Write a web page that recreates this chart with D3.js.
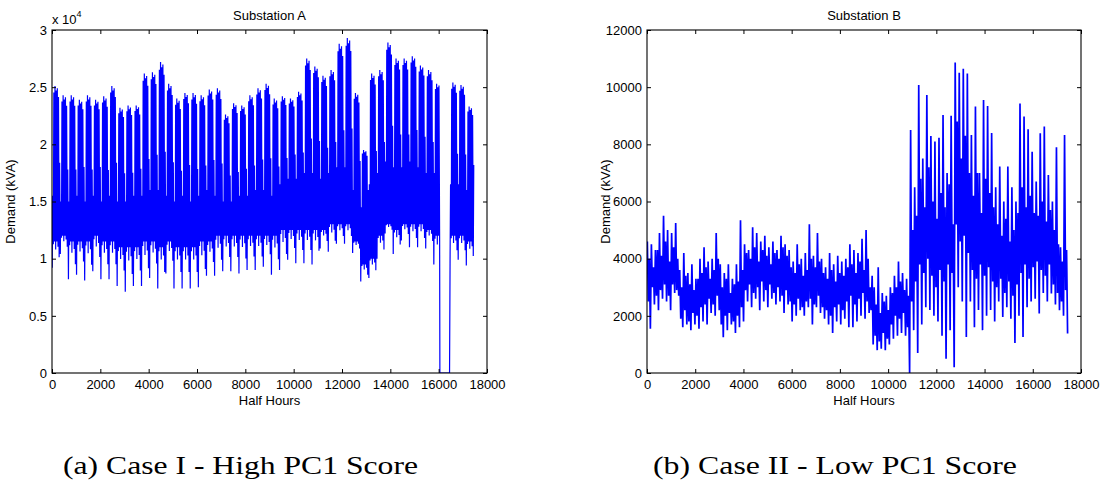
<!DOCTYPE html>
<html>
<head>
	<meta charset="utf-8">
	<style>
		body { margin: 0; background: #fff; }
	</style>
</head>
<body>

	<div id="chart"></div>

	<script src="https://cdnjs.cloudflare.com/ajax/libs/d3/7.8.5/d3.min.js"></script>

	<script>
		const W = 1109;
		const H = 481;
		const WEEK = 336; // half hours per week
		const DAY = 48;
		const HALFWEEK = 168;

		const xTicks = [0, 2000, 4000, 6000, 8000, 10000, 12000, 14000, 16000, 18000];
		const aYTicks = [0, 5000, 10000, 15000, 20000, 25000, 30000];
		const aYLabels = ['0', '0.5', '1', '1.5', '2', '2.5', '3'];
		const bYTicks = [0, 2000, 4000, 6000, 8000, 10000, 12000];

		// Substation A, one value per week (kVA)
		const aPeak = [25100, 24300, 24300, 23900, 24300, 23900, 24200, 25100, 23200, 23400, 23400, 26200, 26300, 27200,
			25300, 24000, 24500, 24500, 24300, 24800, 24900, 22600, 23600, 23400, 24300, 24900, 25300, 24000,
			24200, 24000, 24600, 27500, 26800, 26000, 26500, 28800, 29300, 24500, 19500, 26200, 26500, 28900,
			27500, 27500, 27700, 26900, 26500, 25300, 0, 25400, 25200, 23300];
		const aWkend = [15500, 15000, 15000, 15500, 15000, 15500, 15000, 15500, 15000, 15000, 15500, 15500, 16000, 16000,
			15500, 15000, 15500, 15000, 15500, 16000, 15500, 15000, 15000, 15500, 15500, 16000, 16000, 15500,
			16500, 17000, 17000, 17500, 17500, 17000, 17500, 18000, 18000, 16000, 14500, 16500, 17500, 18500,
			18000, 18000, 18500, 18000, 17500, 17500, 0, 16500, 16500, 16000];
		const aFloor = [11500, 12000, 11500, 11500, 11500, 12000, 11500, 11500, 11000, 11000, 11000, 11500, 11500, 11000,
			11500, 11000, 11000, 11000, 11500, 11500, 12000, 12000, 12000, 12000, 12000, 12000, 12000, 12000,
			12500, 12500, 12500, 12500, 12500, 12500, 13000, 13000, 13000, 11500, 9500, 10000, 12000, 13000,
			12500, 13000, 13000, 13000, 12500, 12000, 0, 12000, 12000, 11500];
		const aMin = [9200, 10400, 8200, 8600, 8100, 8900, 8200, 8200, 7600, 7100, 7600, 7600, 8300, 7400,
			8700, 7400, 7400, 7400, 7500, 8500, 8500, 8900, 8900, 8700, 9000, 9000, 9300, 8600,
			9000, 9900, 9600, 9600, 9500, 10900, 10600, 11300, 11300, 10500, 8000, 8300, 10000, 12200,
			10400, 11600, 11000, 11000, 10900, 9500, 0, 9900, 9900, 9400];
		const aOutage = [16050, 16450];
		// typical day shape inside a week (Sun..Sat): share of the rise above weekend level,
		// and share of the drop from the weekday floor towards the weekly minimum
		const aDayHigh = [0, 0.94, 1.0, 0.96, 0.98, 0.9, 0.3];
		const aDayLow = [1, 0.1, 0, 0.3, 0, 0.2, 0.6];

		// Substation B, per half week: highest and lowest spike (kVA)
		const bHigh = [4600, 4500, 4300, 4900, 5500, 5000, 4900, 5250,
			3600, 4200, 3500, 3800, 3300, 4000, 4400, 3900, 4000, 4900,
			3800, 3500, 3800, 3300, 3800, 5340, 4500, 4300, 5100, 4900, 4600, 4800, 4400, 4600,
			4300, 4800, 4500, 4300, 3900, 4500, 4000, 4200, 5200, 4100, 4900, 4000, 3700, 4200, 3800, 4100, 3900, 4000, 4500, 4300,
			4200, 4700, 5000, 3000, 3000, 3700, 2800, 2700, 3000, 3400, 3900, 3500, 3300,
			8500, 6500, 10080, 7500, 9730, 8290, 8100, 8230, 9030, 7000, 9000, 10860, 10500, 10640, 10480, 8330, 9320, 7000,
			9550, 9340, 8400, 6500, 7220, 6000, 7220, 6500, 6000, 9430, 8970, 8530, 7740, 6700, 8390, 8620, 6930, 6000,
			7900, 4400, 8330];
		const bLow = [1550, 2400, 2200, 2600, 2500, 2200, 2800, 2700,
			1600, 1700, 1500, 1700, 1550, 1800, 1700, 2100, 2000, 2200,
			1250, 1500, 1700, 1400, 1600, 1800, 2500, 2300, 2600, 2200, 2500, 2300, 2600, 2400,
			2500, 2100, 2400, 1800, 2000, 2200, 2000, 2300, 1700, 2300, 2100, 1900, 1700, 1400, 1800, 1700, 1900, 1600, 1600, 1800,
			2000, 1900, 2100, 1000, 800, 850, 800, 1000, 1200, 1300, 1400, 1300, 0,
			1500, 700, 1700, 2300, 2200, 2000, 1800, 1300, 500, 1500, 200, 3000, 2500, 1260, 2500, 1600, 2200, 1500,
			2000, 2200, 1800, 2500, 1960, 2300, 1900, 1050, 2000, 1260, 2300, 2500, 2600, 2080, 2800, 2500, 2780, 2400,
			2200, 2000, 1380];
		// second, smaller swing inside each half week (kVA)
		const bHigh2 = [4000, 3700, 4300, 4100, 4600, 3900, 4400, 4000,
			3000, 3400, 3100, 2900, 3300, 3500, 3700, 3300, 3600, 4000,
			3000, 3300, 2800, 3100, 3200, 3600,
			4200, 4000, 4400, 3900, 4300, 4100, 3800, 4200, 4000, 4400, 4100, 3700,
			3500, 3800, 3400, 3600, 4000, 3700, 3900, 3500, 3300, 3600, 3200, 3500, 3400, 3700, 3800, 3500, 3900, 3600, 4000, 3400,
			2400, 2100, 2500, 2200,
			2800, 3000, 3200, 2900, 2700, 5000,
			5500, 6800, 5800, 7200, 6000, 5400, 6300, 5800, 6600, 5200,
			8800, 7500, 8300, 7000,
			6200, 7000, 5600, 6800, 6300, 5800,
			5200, 4800, 5400, 4600, 5000, 5600,
			6500, 5800, 6200, 5600, 5500, 6000, 5300, 5700,
			5000, 4500, 3900, 4300];
		const bLow2 = [2500, 3000, 2700, 2900, 3100, 2700, 3100, 2900,
			1900, 2200, 1800, 2100, 2000, 2300, 2400, 2600, 2400, 2700,
			1700, 2000, 2100, 1800, 2000, 2300,
			2900, 3100, 2800, 3000, 3200, 2900, 3100, 2800, 3000, 2700, 2900, 2500,
			2400, 2600, 2300, 2500, 2600, 2400, 2700, 2300, 2200, 2000, 2300, 2400, 2200, 2500, 2700, 2400, 2600, 2800, 2500, 2200,
			1300, 1100, 1400, 1200,
			1700, 2000, 1900, 2100, 1600, 2500,
			3200, 3800, 3500, 4000, 3400, 3000, 3600, 3200, 3800, 3500,
			5200, 4600, 4800, 4200,
			3600, 3300, 3800, 3400, 3700, 3200,
			3000, 3300, 2800, 3200, 2700, 3100,
			3500, 3800, 3300, 3700, 3900, 3600, 3400, 3800,
			3100, 2800, 2500, 2900];

		const blue = '#0000ff';
		const sans = '"Liberation Sans", Arial, Helvetica, sans-serif';

		const svg = d3.select('#chart')
			.append('svg')
			.attr('width', W)
			.attr('height', H)
			.style('background', '#fff');

		// A: a night low and a day high for every day of each week
		const seriesA = () => {
			const pts = [];
			aPeak.forEach((pk, w) => {
				const t0 = w * WEEK;
				for (let d = 0; d < 7; d++) {
					const lo = aFloor[w] - aDayLow[d] * (aFloor[w] - aMin[w]);
					const hi = aWkend[w] + aDayHigh[d] * (pk - aWkend[w]);
					pts.push([t0 + d * DAY + 8, lo]);
					pts.push([t0 + d * DAY + 28, hi]);
				}
			});
			const out = pts.filter(p => p[0] < aOutage[0] || p[0] > aOutage[1]);
			out.push([aOutage[0], 0], [aOutage[1], 0]);
			return out.sort((a, b) => a[0] - b[0]);
		};

		// B: two swings per half week
		const seriesB = () => {
			const pts = [];
			bHigh.forEach((v, i) => {
				const t0 = i * HALFWEEK;
				pts.push([t0 + 14, v]);
				pts.push([t0 + 56, bLow2[i]]);
				pts.push([t0 + 98, bHigh2[i]]);
				pts.push([t0 + 140, bLow[i]]);
			});
			return pts;
		};

		const drawPanel = p => {
			const x = d3.scaleLinear().domain([0, 18000]).range([p.left, p.right]);
			const y = d3.scaleLinear().domain([0, p.yMax]).range([p.bottom, p.top]);

			svg.append('clipPath').attr('id', 'clip-' + p.id)
				.append('rect')
				.attr('x', p.left).attr('y', p.top)
				.attr('width', p.right - p.left).attr('height', p.bottom - p.top);

			const plot = svg.append('g').attr('clip-path', `url(#clip-${p.id})`);

			const line = d3.line()
				.x(d => x(d[0]))
				.y(d => y(d[1]));

			plot.append('path')
				.attr('d', line(p.series))
				.attr('fill', 'none')
				.attr('stroke', blue)
				.attr('stroke-width', p.lineWidth)
				.attr('stroke-linejoin', 'bevel');

			const styleAxis = g => {
				g.select('.domain').remove();
				g.attr('font-family', sans).attr('font-size', 13);
				g.selectAll('.tick line').attr('stroke', '#000');
				g.selectAll('.tick text').attr('fill', '#000');
			};

			svg.append('g')
				.attr('transform', `translate(0, ${p.bottom})`)
				.call(d3.axisBottom(x).tickValues(xTicks).tickSize(-4).tickSizeOuter(0).tickPadding(7)
					.tickFormat(d3.format('d')))
				.call(styleAxis);

			svg.append('g')
				.attr('transform', `translate(0, ${p.top})`)
				.call(d3.axisTop(x).tickValues(xTicks).tickSize(-4).tickSizeOuter(0).tickFormat(''))
				.call(styleAxis);

			svg.append('g')
				.attr('transform', `translate(${p.left}, 0)`)
				.call(d3.axisLeft(y).tickValues(p.yTicks).tickSize(-4).tickSizeOuter(0).tickPadding(5)
					.tickFormat((d, i) => p.yLabels ? p.yLabels[i] : d3.format('d')(d)))
				.call(styleAxis);

			svg.append('g')
				.attr('transform', `translate(${p.right}, 0)`)
				.call(d3.axisRight(y).tickValues(p.yTicks).tickSize(-4).tickSizeOuter(0).tickFormat(''))
				.call(styleAxis);

			svg.append('rect')
				.attr('x', p.left).attr('y', p.top)
				.attr('width', p.right - p.left).attr('height', p.bottom - p.top)
				.attr('fill', 'none')
				.attr('stroke', '#000')
				.attr('stroke-width', 1.1);

			const cx = (p.left + p.right) / 2;

			svg.append('text')
				.attr('x', cx).attr('y', 20)
				.attr('text-anchor', 'middle')
				.attr('font-family', sans).attr('font-size', 13)
				.text(p.title);

			svg.append('text')
				.attr('x', cx).attr('y', 405)
				.attr('text-anchor', 'middle')
				.attr('font-family', sans).attr('font-size', 13)
				.text('Half Hours');

			svg.append('text')
				.attr('transform', `translate(${p.left - 37}, ${(p.top + p.bottom) / 2}) rotate(-90)`)
				.attr('text-anchor', 'middle')
				.attr('font-family', sans).attr('font-size', 13)
				.text('Demand (kVA)');

			svg.append('text')
				.attr('x', p.capX).attr('y', 474)
				.attr('font-family', '"Liberation Serif", "Times New Roman", serif')
				.attr('font-size', 26)
				.attr('textLength', p.capW)
				.attr('lengthAdjust', 'spacingAndGlyphs')
				.text(p.caption);

			if (p.multiplier) {
				const m = svg.append('text')
					.attr('x', p.left).attr('y', 24)
					.attr('font-family', sans).attr('font-size', 13)
					.text('x 10');
				m.append('tspan')
					.attr('dy', -7)
					.attr('font-size', 9)
					.text('4');
			}
		};

		drawPanel({
			id: 'a',
			left: 52, right: 487, top: 30, bottom: 373,
			yMax: 30000, yTicks: aYTicks, yLabels: aYLabels,
			series: seriesA(),
			lineWidth: 1.2,
			title: 'Substation A',
			caption: '(a) Case I - High PC1 Score',
			capX: 63, capW: 355,
			multiplier: true
		});

		drawPanel({
			id: 'b',
			left: 647, right: 1081, top: 30, bottom: 373,
			yMax: 12000, yTicks: bYTicks,
			series: seriesB(),
			lineWidth: 1.7,
			title: 'Substation B',
			caption: '(b) Case II - Low PC1 Score',
			capX: 653, capW: 364
		});
	</script>

</body>
</html>
